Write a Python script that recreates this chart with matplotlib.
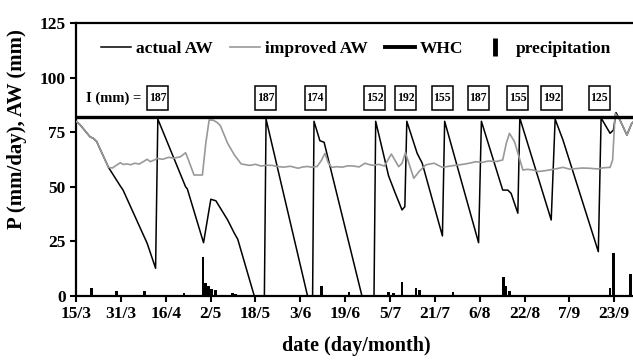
import matplotlib.pyplot as plt
from matplotlib.lines import Line2D
from matplotlib.patches import Rectangle

plt.rcParams['font.family'] = 'Liberation Serif'
plt.rcParams['font.weight'] = 'bold'

# dias contados a partir de 15/3
tick_pos = [0, 16, 32, 48, 64, 80, 96, 112, 128, 144, 160, 176, 192]
tick_lab = ["15/3", "31/3", "16/4", "2/5", "18/5", "3/6", "19/6", "5/7",
            "21/7", "6/8", "22/8", "7/9", "23/9"]

# actual AW
dia_real = [0, 1.4, 5, 6.2, 7.4, 11.6, 15.8, 16.8, 25.4, 28.4,
            29.2, 39.1, 39.7, 45.5, 48.1, 49.9, 54.1, 56.5, 57.7, 63.6, 67.2,
            67.8, 82.6, 84.4,
            84.9, 87, 88.5, 102, 106.3,
            106.9, 111.5, 113.9, 116.3, 117.3,
            118.0, 121.7, 123.5, 130.7,
            131.5, 143.6,
            144.6, 152.2, 154, 155.2, 157.6,
            158.3, 169.5,
            170.9, 173.7, 186.3,
            187.3, 190.5, 191.7, 192.6, 194, 196.5, 198.2, 199.5]
aw_real = [80, 78.5, 72.9, 72.2, 70.7, 58.9, 50.4, 48.5, 24.1, 12.7,
           81, 50.0, 49.1, 24.4, 44.3, 43.6, 34.8, 28.7, 26.0, 0, 0,
           81, 0, 0,
           80, 71.1, 70.4, 0, 0,
           80, 55, 47, 39.4, 40.9,
           80, 65.3, 60.8, 27.5,
           80, 24.4,
           80, 48.5, 48.5, 47, 37.9,
           81.5, 34.8,
           81, 71.4, 20.3,
           81.5, 74.5, 76, 84, 80.6, 73.7, 79, 80.6]

# improved AW
dia_mel = [0, 1.4, 5, 6.2, 7.4, 11.6, 13, 14, 15.8, 17, 18, 19.5, 21, 22.5, 24,
           25.4, 26.5, 28, 29, 31, 33, 35, 37.3, 39.1, 40.2, 42.1, 45.1, 46.3,
           47.5, 49, 50.5, 51.5, 54.1, 56.5, 58.9, 60.5, 62, 64, 66, 68, 70,
           72, 74, 76.5, 79.2, 81, 82.5, 84, 86, 87.5, 88.8, 90, 91.2, 93, 95,
           97, 99, 101, 103.1, 104.5, 106, 108, 110, 112.5, 115.1, 116.3, 117.5,
           120.5, 122.3, 124.7, 126, 127.7, 130.7, 133, 135, 137, 139, 141,
           142.6, 145, 147, 150, 152.2, 153.5, 154.6, 156.4, 159.4, 161, 163,
           165, 168, 171, 173.7, 176, 178, 180.5, 183, 186, 188, 190.5, 191.4,
           192.3, 194, 196.5, 198.2, 199.5]
aw_mel = [80, 78.5, 72.9, 72.2, 70.7, 58.9, 58.6, 59.5, 61, 60.2, 60.5, 60.1,
          60.8, 60.4, 61.5, 62.6, 61.5, 62.3, 63, 62.6, 63.5, 63.1, 63.8, 65.6,
          62, 55.4, 55.4, 69.9, 80.6, 80.5, 79.3, 78, 69.9, 64.6, 60.5, 60.1,
          59.8, 60.3, 59.5, 59.9, 59.8, 59.3, 59.0, 59.4, 58.5, 59.1, 59.3,
          59.0, 59.3, 62, 65.3, 61, 58.9, 59.2, 59, 59.6, 59.5, 59.1, 60.8,
          60.2, 59.8, 60.3, 59.5, 65, 59.2, 60.8, 65.6, 53.9, 56.9, 60, 60.4,
          60.8, 58.9, 59.4, 59.8, 60.1, 60.5, 61.0, 61.5, 61.2, 61.8, 61.6,
          62.3, 70, 74.5, 70.7, 57.7, 58.0, 57.7, 57, 57.5, 58.2, 58.9, 58.1,
          58.3, 58.6, 58.5, 58.2, 58.7, 58.9, 62.3, 83.6, 80.6, 73.7, 79, 80.6]

# precipitacao
dia_chuva = [5.6, 14.6, 24.4, 38.5, 45.3, 46.3, 47.3, 48.3, 49.9, 55.9, 56.9,
             87.5, 97.4, 111.5, 113.3, 116.3, 121.3, 122.4, 134.5, 152.4,
             153.4, 154.5, 190.5, 191.6, 197.7]
chuva = [3.5, 2.3, 2.4, 1.3, 18, 5.8, 4.5, 3, 2.7, 1.5, 0.8,
         4.6, 2.0, 2.0, 1.2, 6.3, 3.5, 2.8, 2.0, 8.5,
         4.8, 2.2, 3.5, 19.8, 10]

whc = 82

# irrigacoes
dia_irr = [29.2, 67.7, 85.3, 106.6, 117.6, 130.6, 143.5, 157.6, 169.7, 186.6]
irr = [187, 187, 174, 152, 192, 155, 187, 155, 192, 125]

fig = plt.figure(figsize=(6.33, 3.63), dpi=100)
ax = fig.add_axes([0.12, 0.1846, 0.885, 0.752])

ax.bar(dia_chuva, chuva, width=1.0, color='black', zorder=2)
ax.plot(dia_real, aw_real, color='black', lw=1.1, zorder=3)
ax.plot(dia_mel, aw_mel, color='#999999', lw=1.2, zorder=4)
ax.axhline(whc, color='black', lw=2.4, zorder=5)

# caixas com a lamina de irrigacao
y_caixa = 90.7
ax.text(3.5, y_caixa, "I (mm) =", fontsize=10.5, va='center', ha='left')
for d, v in zip(dia_irr, irr):
    ax.add_patch(Rectangle((d - 3.7, y_caixa - 5.5), 7.4, 11, fc='white',
                           ec='black', lw=1.1, zorder=6))
    ax.text(d, y_caixa, str(v), fontsize=8.5, ha='center', va='center', zorder=7)

handles = [Line2D([], [], color='black', lw=1.1),
           Line2D([], [], color='#999999', lw=1.2),
           Line2D([], [], color='black', lw=2.8),
           Line2D([], [], color='black', ls='none', marker='|', ms=13, mew=3.5)]
labels = ["actual AW", "improved AW", "WHC", "precipitation"]
ax.legend(handles, labels, ncol=4, loc='center', bbox_to_anchor=(0.5, 0.905),
          frameon=False, fontsize=12.5, handlelength=1.7, handletextpad=0.3,
          columnspacing=1.0)

ax.set_xlim(0, 199.8)
ax.set_ylim(0, 125)
ax.set_yticks([0, 25, 50, 75, 100, 125])
ax.set_xticks(tick_pos)
ax.set_xticklabels(tick_lab)
ax.tick_params(axis='both', labelsize=12.5, width=1.5, length=4, direction='out')
for s in ['left', 'bottom', 'top']:
    ax.spines[s].set_linewidth(1.6)
ax.spines['right'].set_visible(False)

ax.set_ylabel("P (mm/day), AW (mm)", fontsize=15, fontweight='bold')
ax.yaxis.set_label_coords(-0.088, 0.61)
ax.set_xlabel("date (day/month)", fontsize=14.5, fontweight='bold', labelpad=10)

plt.savefig("out.png", dpi=100)
